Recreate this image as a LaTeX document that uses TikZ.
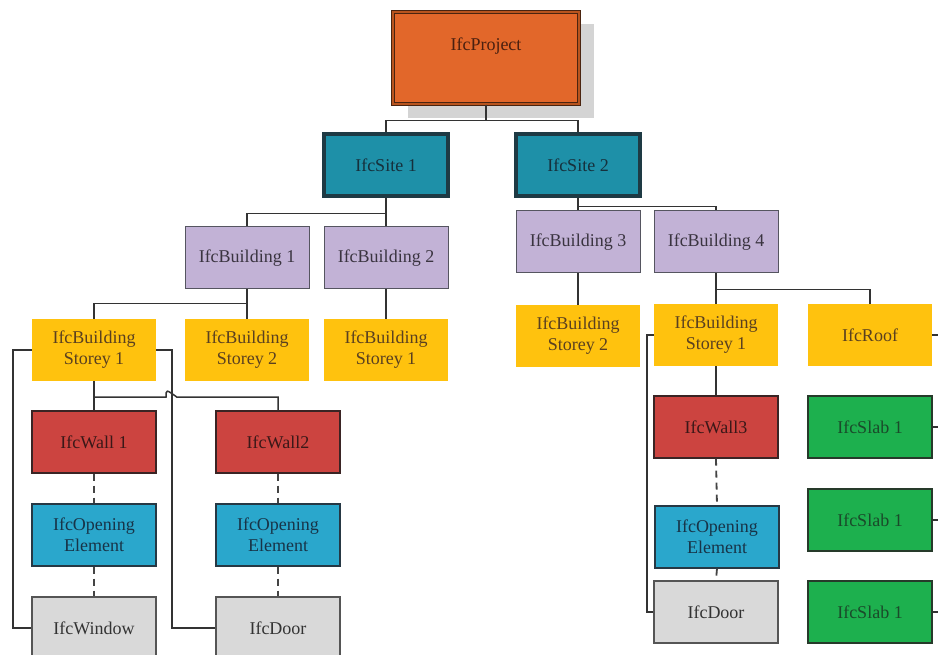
\documentclass[tikz,border=0pt]{standalone}
\usepackage{fontspec}
\setmainfont{Liberation Serif}
\begin{document}
\begin{tikzpicture}[x=1pt,y=-1pt,
  every node/.style={font=\fontsize{18}{21}\selectfont, align=center, inner sep=0pt},
  box/.style={rectangle, minimum width=124pt, minimum height=62pt},
  projectbox/.style={box, minimum width=186pt, minimum height=92pt, fill=prjC,
    draw=prjB, line width=1.2pt, double=prjD, double distance=1.2pt, text=prjT},
  sitebox/.style={box, fill=siteC, draw=siteB, line width=3.5pt, text=siteT},
  bldbox/.style={box, fill=bldC, draw=bldB, line width=1pt, text=bldT},
  storeybox/.style={box, fill=stC, text=stT},
  wallbox/.style={box, fill=wallC, draw=wallB, line width=1.3pt, text=wallT},
  openbox/.style={box, fill=openC, draw=openB, line width=1.3pt, text=openT},
  doorbox/.style={box, fill=doorC, draw=doorB, line width=1.5pt, text=doorT},
  slabbox/.style={box, fill=slabC, draw=slabB, line width=1.3pt, text=slabT},
  link/.style={draw=lineC, line width=1.5pt},
  dlink/.style={draw=dashC, line width=1.8pt, dash pattern=on 7pt off 5pt}]
\definecolor{prjC}{HTML}{E2672A}\definecolor{prjB}{HTML}{4A2410}
\definecolor{prjD}{HTML}{B8541E}\definecolor{prjT}{HTML}{4A2010}
\definecolor{siteC}{HTML}{1E90A8}\definecolor{siteB}{HTML}{1E3A44}
\definecolor{siteT}{HTML}{16303C}
\definecolor{bldC}{HTML}{C2B2D6}\definecolor{bldB}{HTML}{555560}
\definecolor{bldT}{HTML}{3A3440}
\definecolor{stC}{HTML}{FFC20E}\definecolor{stT}{HTML}{5A4020}
\definecolor{wallC}{HTML}{CC4440}\definecolor{wallB}{HTML}{3A2424}
\definecolor{wallT}{HTML}{3A1818}
\definecolor{openC}{HTML}{2AA7CC}\definecolor{openB}{HTML}{263844}
\definecolor{openT}{HTML}{183448}
\definecolor{doorC}{HTML}{D9D9D9}\definecolor{doorB}{HTML}{555555}
\definecolor{doorT}{HTML}{333333}
\definecolor{slabC}{HTML}{1DB04E}\definecolor{slabB}{HTML}{263A2A}
\definecolor{slabT}{HTML}{1A4A2A}
\definecolor{lineC}{HTML}{333333}\definecolor{dashC}{HTML}{444444}
\definecolor{shadowC}{HTML}{D4D4D4}

\useasboundingbox[fill=white] (0,0) rectangle (938,655);

% drop shadow behind the project box
\fill[shadowC] (408,24) rectangle (594,118);

% nodes
\node[projectbox] (project) at (486,58) {\raisebox{12pt}[\height][\depth]{IfcProject}};

\node[sitebox] (site1) at (386,165) {IfcSite 1};
\node[sitebox] (site2) at (578,165) {IfcSite 2};

\node[bldbox] (bld1) at (247,258) {IfcBuilding 1};
\node[bldbox] (bld2) at (386,258) {IfcBuilding 2};
\node[bldbox] (bld3) at (578,242) {IfcBuilding 3};
\node[bldbox] (bld4) at (716,242) {IfcBuilding 4};

\node[storeybox] (stA) at (94,350) {IfcBuilding\\Storey 1};
\node[storeybox] (stB) at (247,350) {IfcBuilding\\Storey 2};
\node[storeybox] (stC) at (386,350) {IfcBuilding\\Storey 1};
\node[storeybox] (stD) at (578,336) {IfcBuilding\\Storey 2};
\node[storeybox] (stE) at (716,335) {IfcBuilding\\Storey 1};
\node[storeybox] (roof) at (870,335) {IfcRoof};

\node[wallbox] (wall1) at (94,442) {IfcWall 1};
\node[wallbox] (wall2) at (278,442) {IfcWall2};
\node[wallbox] (wall3) at (716,427) {IfcWall3};

\node[openbox] (open1) at (94,535) {IfcOpening\\Element};
\node[openbox] (open2) at (278,535) {IfcOpening\\Element};
\node[openbox] (open3) at (717,537) {IfcOpening\\Element};

\node[doorbox] (window) at (94,628) {IfcWindow};
\node[doorbox] (door1) at (278,628) {IfcDoor};
\node[doorbox] (door3) at (716,612) {IfcDoor};

\node[slabbox] (slab1) at (870,427) {IfcSlab 1};
\node[slabbox] (slab2) at (870,520) {IfcSlab 1};
\node[slabbox] (slab3) at (870,612) {IfcSlab 1};

% tree connectors
\draw[link] (project.south) -- ++(0,16) -| (site1.north);
\draw[link] (project.south) -- ++(0,16) -| (site2.north);

\draw[link] (site1.south) -- ++(0,16) -| (bld1.north);
\draw[link] (site1.south) -- (bld2.north);
\draw[link] (site2.south) -- (bld3.north);
\draw[link] (site2.south) -- ++(0,9) -| (bld4.north);

\draw[link] (bld1.south) -- ++(0,14) -| (stA.north);
\draw[link] (bld1.south) -- ++(0,14) -| (stB.north);
\draw[link] (bld2.south) -- (stC.north);
\draw[link] (bld3.south) -- (stD.north);
\draw[link] (bld4.south) -- ++(0,16) -| (stE.north);
\draw[link] (bld4.south) -- ++(0,16) -| (roof.north);

% storey 1 to its walls, hopping over the door link
\draw[link] (stA.south) -- (wall1.north);
\draw[link] (stA.south) -- ++(0,16) -- ++(72,0)
  .. controls ++(0,-8) and ++(-11,-8) .. ++(11,0) -| (wall2.north);
\draw[link] (stA.east) -- ++(16,0) |- (door1.west);
\draw[link] (stA.west) -- ++(-19,0) |- (window.west);

\draw[link] (stE.south) -- (wall3.north);
\draw[link] (stE.west) -- ++(-7,0) |- (door3.west);

% voids and fillings
\draw[dlink] (wall1.south) -- (open1.north);
\draw[dlink] (open1.south) -- (window.north);
\draw[dlink] (wall2.south) -- (open2.north);
\draw[dlink] (open2.south) -- (door1.north);
\draw[dlink] (wall3.south) -- (open3.north);
\draw[dlink] (open3.south) -- (door3.north);

% links leaving to the right
\draw[link] (roof.east) -- ++(10,0);
\draw[link] (slab1.east) -- ++(10,0);
\draw[link] (slab2.east) -- ++(10,0);
\draw[link] (slab3.east) -- ++(10,0);
\end{tikzpicture}
\end{document}
